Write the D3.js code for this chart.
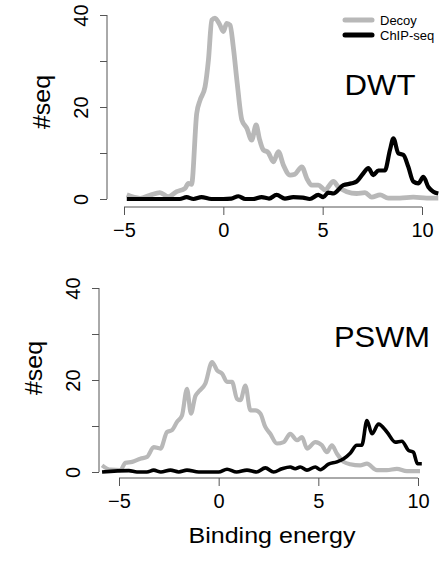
<!DOCTYPE html>
<html><head><meta charset="utf-8">
<script src="https://cdn.jsdelivr.net/npm/d3@7"></script>
<style>body{margin:0;background:#fff}svg{display:block}text{font-family:"Liberation Sans",Arial,Helvetica,sans-serif}</style>
</head><body>
<script>
// ---- data ----
const seriesNames = ["Decoy", "ChIP-seq"];
const panelTitles = ["DWT", "PSWM"];
const xTicks = [-5, 0, 5, 10];
const yTicks = [0, 10, 20, 30, 40];
const yTickLabels = [0, 20, 40];

const dwtDecoyX = [-4.86,-4.19,-3.7,-3.19,-2.77,-2.35,-1.93,-1.76,-1.6,-1.34,-1.17,-0.92,-0.75,-0.58,-0.42,-0.17,0,0.17,0.34,0.5,0.7,0.93,1.18,1.43,1.65,1.81,2.01,2.26,2.52,2.77,3.02,3.36,3.6,3.95,4.2,4.45,4.78,5.12,5.54,5.79,6.21,6.71,7.13,7.47,7.89,8.3,8.89,9.56,10.24,10.82];
const dwtDecoyY = [0.9,0.15,0.8,1.4,0.5,1.6,2.3,3.4,3.2,18.6,21.5,24.4,30.2,38.9,39.3,37.8,36.4,38.2,37.8,33.1,25.1,17.2,15.4,12.8,16.1,13.2,10.7,10.1,8.1,10.3,7.4,5.2,5.4,7.0,4.5,3.0,3.0,2.0,3.8,2.6,1.6,1.2,1.4,0.4,0.9,0.2,0.2,0.4,0.2,0.2];
const dwtChipX = [-4.86,-2.2,-1.85,-1.5,-1.1,-0.6,0,0.4,0.76,1.1,1.5,1.93,2.3,2.68,3.1,3.52,4.0,4.35,4.78,5.03,5.28,5.54,6.04,6.46,6.71,7.05,7.3,7.55,7.8,8.13,8.39,8.56,8.81,9.06,9.31,9.56,9.81,10.07,10.32,10.57,10.82];
const dwtChipY = [0,0,0.4,0,0.4,0,0,0.1,0.6,0,0,0.4,0.1,0.9,0.1,0.4,0.3,0,0.9,0.4,1.4,1.2,3.0,3.4,3.8,5.6,6.7,5.2,6.2,6.2,10.7,13.2,9.9,9.6,7.0,3.8,3.4,4.8,2.6,1.6,1.2];

const pswmDecoyX = [-5.85,-5.43,-4.93,-4.68,-4.34,-3.93,-3.59,-3.26,-2.92,-2.59,-2.34,-2.09,-1.84,-1.59,-1.39,-1.17,-1.0,-0.67,-0.33,-0.08,0.17,0.42,0.67,0.92,1.09,1.34,1.59,1.84,2.09,2.34,2.59,2.92,3.26,3.59,3.93,4.18,4.43,4.85,5.18,5.43,5.68,5.93,6.27,6.6,7.1,7.44,7.94,8.44,8.94,9.44,10.1];
const pswmDecoyY = [1.45,0.5,0.4,2.0,2.2,2.9,3.3,5.4,5.1,8.7,9.1,10.9,12.3,18.1,12.7,16.5,17.5,19.2,23.9,22.1,21.4,19.6,19.6,15.9,15.6,18.8,13.4,13.4,12.7,9.8,8.3,6.2,6.5,8.3,6.9,7.6,5.1,6.5,5.8,4.3,5.8,4.0,2.2,1.7,1.45,1.8,0.4,0.4,0.7,0.2,0.2];
const pswmChipX = [-5.85,-4.5,-4.1,-3.6,-3.26,-2.9,-2.42,-2.0,-1.59,-1.0,0,0.42,0.9,1.42,1.9,2.34,2.76,3.17,3.59,3.84,4.09,4.43,4.85,5.1,5.51,5.93,6.27,6.6,6.93,7.18,7.44,7.69,8.02,8.44,8.86,9.19,9.52,9.77,9.97,10.19];
const pswmChipY = [0,0.3,0,0,0.4,0,0.4,0,0.4,0,0,0.6,0,0.4,0,0.9,0,0.7,1.1,0.7,1.1,0.4,1.1,0.5,1.7,2.2,2.9,4.1,5.8,5.8,11.2,8.3,10.4,8.7,6.5,6.7,4.7,4.3,1.8,1.8];

// ---- layout ----
const W = 446, H = 563;
const svg = d3.select("body").append("svg").attr("width", W).attr("height", H);

const panels = [
  {title: panelTitles[0], titleLen: 71, decoy: [dwtDecoyX, dwtDecoyY], chip: [dwtChipX, dwtChipY],
   xr: [124, 422], yr: [199, 15], axX: 107, axY: 207, lw: [4.8, 4.2],
   titlePos: [380, 95], ylabPos: [42, 102], legend: true},
  {title: panelTitles[1], titleLen: 96, decoy: [pswmDecoyX, pswmDecoyY], chip: [pswmChipX, pswmChipY],
   xr: [119, 418], yr: [472, 288], axX: 99, axY: 478, lw: [4.2, 3.6],
   titlePos: [382, 347], ylabPos: [34, 368], legend: false}
];

const axisColor = "#555";
const decoyColor = "#b8b8b8";

panels.forEach(p => {
  const x = d3.scaleLinear().domain([-5, 10]).range(p.xr);
  const y = d3.scaleLinear().domain([0, 40]).range(p.yr);
  const g = svg.append("g");

  // y axis
  const ya = g.append("g").attr("transform", `translate(${p.axX},0)`)
    .call(d3.axisLeft(y).tickValues(yTicks).tickSize(7).tickSizeOuter(0)
      .tickFormat(d => yTickLabels.includes(d) ? d : ""));
  ya.select(".domain").remove();
  ya.append("line").attr("x1", 0).attr("x2", 0).attr("y1", y(0)).attr("y2", y(40))
    .attr("stroke", axisColor);
  ya.selectAll(".tick line").attr("stroke", axisColor);
  ya.selectAll(".tick text")
    .attr("x", null).attr("dy", null)
    .attr("transform", "translate(-26,0) rotate(-90)")
    .attr("text-anchor", "middle").attr("dominant-baseline", "central")
    .attr("font-size", 20).attr("fill", "#000")
    .style("font-family", "Liberation Sans, Arial, sans-serif");

  // x axis
  const xa = g.append("g").attr("transform", `translate(0,${p.axY})`)
    .call(d3.axisBottom(x).tickValues(xTicks).tickSize(8).tickSizeOuter(0));
  xa.select(".domain").remove();
  xa.append("line").attr("x1", x(-5)).attr("x2", x(10)).attr("y1", 0).attr("y2", 0)
    .attr("stroke", axisColor);
  xa.selectAll(".tick line").attr("stroke", axisColor);
  xa.selectAll(".tick text").attr("y", 30).attr("dy", null)
    .attr("font-size", 20).attr("fill", "#000")
    .style("font-family", "Liberation Sans, Arial, sans-serif");

  // lines
  const line = d3.line().x(d => x(d[0])).y(d => y(d[1])).curve(d3.curveMonotoneX);
  const decoy = p.decoy[0].map((v, i) => [v, p.decoy[1][i]]);
  const chip = p.chip[0].map((v, i) => [v, p.chip[1][i]]);
  g.append("path").datum(decoy).attr("d", line).attr("fill", "none")
    .attr("stroke", decoyColor).attr("stroke-width", p.lw[0]).attr("stroke-linejoin", "round");
  g.append("path").datum(chip).attr("d", line).attr("fill", "none")
    .attr("stroke", "#000").attr("stroke-width", p.lw[1]).attr("stroke-linejoin", "round");

  // title
  g.append("text").attr("x", p.titlePos[0]).attr("y", p.titlePos[1])
    .attr("text-anchor", "middle").attr("font-size", 30)
    .attr("textLength", p.titleLen).attr("lengthAdjust", "spacingAndGlyphs").text(p.title);

  // y label
  g.append("text").attr("transform", `translate(${p.ylabPos[0]},${p.ylabPos[1]}) rotate(-90)`)
    .attr("text-anchor", "middle").attr("dominant-baseline", "central")
    .attr("font-size", 23).attr("textLength", 54).attr("lengthAdjust", "spacingAndGlyphs")
    .text("#seq");

  if (p.legend) {
    const lg = g.append("g");
    const colors = [decoyColor, "#000"];
    seriesNames.forEach((s, i) => {
      const ly = 20 + i * 15;
      lg.append("line").attr("x1", 345).attr("x2", 372).attr("y1", ly).attr("y2", ly)
        .attr("stroke", colors[i]).attr("stroke-width", 5).attr("stroke-linecap", "round");
      lg.append("text").attr("x", 380).attr("y", ly).attr("dominant-baseline", "central")
        .attr("font-size", 13).text(s);
    });
  }
});

// x label
svg.append("text").attr("x", 272).attr("y", 543).attr("text-anchor", "middle")
  .attr("font-size", 22).attr("textLength", 167).attr("lengthAdjust", "spacingAndGlyphs")
  .text("Binding energy");
</script>
</body></html>
